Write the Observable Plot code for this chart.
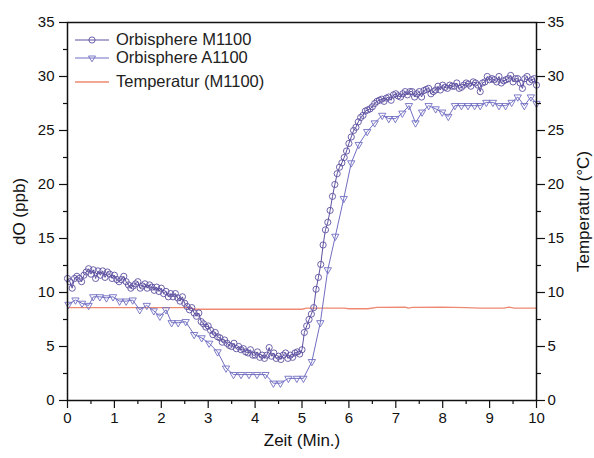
<!DOCTYPE html>
<html>
<head>
<meta charset="utf-8">
<script src="https://cdn.jsdelivr.net/npm/d3@7"></script>
<script src="https://cdn.jsdelivr.net/npm/@observablehq/plot@0.6"></script>
<style>
html, body { margin: 0; padding: 0; background: #fff; }
#wrap { position: relative; width: 594px; height: 458px; font-family: "Liberation Sans", Arial, sans-serif; }
#legend { position: absolute; left: 0; top: 0; width: 594px; height: 0; }
.leg-row { position: absolute; left: 75px; display: flex; align-items: center; font-size: 16.5px; color: #222; white-space: nowrap; }
.leg-row svg { margin-right: 7px; }
g[aria-label="y-axis label"] text, g[aria-label="x-axis label"] text { font-size: 17px; }
</style>
</head>
<body>
<div id="wrap"><div id="legend"></div></div>
<script>
// ---- data ----
const seriesNames = ["Orbisphere M1100", "Orbisphere A1100", "Temperatur (M1100)"];
const axisLabels = { x: "Zeit (Min.)", yLeft: "dO (ppb)", yRight: "Temperatur (°C)" };
const xTicks = [0, 1, 2, 3, 4, 5, 6, 7, 8, 9, 10];
const xMinorTicks = [0.5, 1.5, 2.5, 3.5, 4.5, 5.5, 6.5, 7.5, 8.5, 9.5];
const yTicks = [0, 5, 10, 15, 20, 25, 30, 35];
const yMinorTicks = [2.5, 7.5, 12.5, 17.5, 22.5, 27.5, 32.5];

// Orbisphere M1100: one sample every 0.05 min (3 s), starting at t = 0
const m1100Step = 0.05;
const m1100Values = [
  11.3, 11.0, 10.4, 11.3, 11.5, 11.3, 11.0, 11.6, 11.9, 12.2,
  11.7, 12.1, 11.3, 12.0, 11.6, 12.0, 11.4, 11.9, 11.7, 11.3,
  11.6, 11.2, 11.0, 11.2, 11.5, 11.0, 10.7, 10.4, 10.6, 10.8,
  11.0, 10.4, 10.6, 10.8, 10.4, 10.7, 10.5, 10.2, 10.5, 10.1,
  10.4, 9.9, 10.1, 9.6, 9.9, 9.6, 9.9, 9.5, 9.2, 9.6,
  9.0, 8.7, 8.4, 8.6, 8.1, 7.8, 8.1, 7.3, 7.1, 6.8,
  6.9, 6.5, 6.1, 6.3, 5.9, 5.8, 5.4, 5.6, 5.3, 5.1,
  5.0, 5.3, 4.8, 5.0, 4.7, 4.8, 4.5, 4.4, 4.7, 4.2,
  4.2, 4.5, 4.0, 4.2, 3.9, 4.2, 4.9, 4.1, 4.4, 3.9,
  4.1, 3.8, 4.2, 4.4, 3.9, 4.2, 4.0, 4.4, 4.5, 4.3,
  4.7, 6.3, 6.9, 7.5, 8.0, 8.6, 10.3, 11.4, 12.6, 14.4,
  15.8, 16.5, 17.6, 18.9, 20.0, 21.0, 21.6, 22.0, 22.5, 23.1,
  23.8, 24.4, 25.0, 25.3, 25.8, 26.2, 26.4, 26.8, 26.9, 27.0,
  27.2, 27.5, 27.7, 27.8, 27.9, 27.7, 28.0, 28.1, 27.8, 28.3,
  28.4, 28.2, 28.1, 28.4, 28.6, 28.3, 28.6, 28.6, 28.1, 28.4,
  28.6, 28.1, 28.7, 28.8, 28.9, 28.4, 28.6, 28.75, 29.1, 28.75,
  29.2, 29.0, 28.9, 29.2, 29.1, 29.1, 29.4, 28.9, 29.0, 29.2,
  29.4, 29.3, 29.1, 29.5, 29.4, 29.2, 28.6, 29.4, 29.5, 30.0,
  29.7, 29.8, 29.7, 29.5, 30.0, 29.4, 29.6, 29.7, 29.8, 30.1,
  29.5, 29.8, 29.8, 29.4, 28.9, 29.8, 30.0, 29.5, 29.7, 29.8,
  29.2
];

// Orbisphere A1100
const a1100Times = [
  0.02, 0.17, 0.31, 0.45, 0.55, 0.69, 0.83, 0.97, 1.11, 1.25,
  1.39, 1.54, 1.69, 1.84, 1.97, 2.10, 2.22, 2.36, 2.52, 2.70,
  2.86, 3.02, 3.20, 3.38, 3.54, 3.70, 3.87, 4.04, 4.22, 4.39,
  4.54, 4.71, 4.89, 5.03, 5.21, 5.39, 5.55, 5.71, 5.89, 6.05,
  6.21, 6.39, 6.55, 6.71, 6.85, 6.99, 7.14, 7.28, 7.42, 7.56,
  7.70, 7.85, 7.99, 8.12, 8.26, 8.40, 8.54, 8.68, 8.80, 8.93,
  9.07, 9.20, 9.34, 9.47, 9.60, 9.74, 9.88, 10.0
];
const a1100Values = [
  8.9, 9.3, 9.0, 8.8, 9.6, 9.6, 9.5, 9.6, 9.2, 9.2,
  9.3, 8.4, 8.8, 8.3, 7.8, 8.4, 7.2, 7.2, 7.3, 6.1,
  5.8, 5.3, 4.5, 3.0, 2.4, 2.4, 2.4, 2.4, 2.4, 1.6,
  1.6, 2.05, 2.05, 2.05, 3.6, 7.2, 12.1, 15.2, 18.7, 22.0,
  23.7, 24.9, 25.7, 26.4, 26.1, 26.1, 26.6, 27.3, 25.7, 26.7,
  27.3, 27.0, 26.7, 26.3, 27.3, 27.3, 27.3, 27.3, 27.3, 27.6,
  27.6, 27.3, 27.3, 27.6, 28.1, 27.3, 28.1, 27.5
];

// Temperatur (M1100), °C
const tempTimes = [0, 2.6, 2.7, 5.0, 5.1, 5.9, 6.0, 6.4, 6.6, 7.2, 7.27, 7.35, 8.0, 8.5, 8.8, 9.3, 9.42, 9.52, 10.0];
const tempValues = [8.6, 8.6, 8.45, 8.45, 8.55, 8.55, 8.5, 8.5, 8.62, 8.65, 8.55, 8.62, 8.65, 8.6, 8.55, 8.55, 8.65, 8.55, 8.55];

const colorM = "#5e50a0";
const colorA = "#716ec2";
const colorT = "#ee8a72";

// ---- build tables ----
const M = m1100Values.map((v, i) => ({ t: +(i * m1100Step).toFixed(2), v }));
const A = a1100Times.map((t, i) => ({ t, v: a1100Values[i] }));
const T = tempTimes.map((t, i) => ({ t, v: tempValues[i] }));

const font = "Liberation Sans, Arial, sans-serif";
const chart = Plot.plot({
  width: 594,
  height: 458,
  marginLeft: 67,
  marginRight: 58,
  marginTop: 22,
  marginBottom: 58,
  style: { fontFamily: font, fontSize: "15px", color: "#111", background: "#fff", overflow: "visible" },
  x: { domain: [0, 10] },
  y: { domain: [0, 35] },
  marks: [
    Plot.line(T, { x: "t", y: "v", stroke: colorT, strokeWidth: 1.4 }),
    Plot.line(A, { x: "t", y: "v", stroke: colorA, strokeWidth: 1 }),
    Plot.dot(A, { x: "t", y: "v", symbol: "triangle", rotate: 180, r: 2.7, stroke: colorA, strokeWidth: 0.9, fill: "none" }),
    Plot.line(M, { x: "t", y: "v", stroke: colorM, strokeWidth: 1 }),
    Plot.dot(M, { x: "t", y: "v", r: 3.1, stroke: colorM, strokeWidth: 0.9, fill: "none" }),
    Plot.axisY({ ticks: yMinorTicks, anchor: "left", tickSize: 4, tickFormat: () => "", label: null, strokeWidth: 1.2 }),
    Plot.axisY({ ticks: yTicks, anchor: "left", tickSize: 8, tickPadding: 5, fontSize: 15, label: axisLabels.yLeft, labelAnchor: "center", labelOffset: 55, labelArrow: "none", strokeWidth: 1.2 }),
    Plot.axisY({ ticks: yMinorTicks, anchor: "right", tickSize: 4, tickFormat: () => "", label: null, strokeWidth: 1.2 }),
    Plot.axisY({ ticks: yTicks, anchor: "right", tickSize: 8, tickPadding: 3, fontSize: 15, label: axisLabels.yRight, labelAnchor: "center", labelOffset: 52, labelArrow: "none", strokeWidth: 1.2 }),
    Plot.axisX({ ticks: xMinorTicks, anchor: "bottom", tickSize: 4, tickFormat: () => "", label: null, strokeWidth: 1.2 }),
    Plot.axisX({ ticks: xTicks, anchor: "bottom", tickSize: 8, tickPadding: 4, fontSize: 15, label: axisLabels.x, labelAnchor: "center", labelOffset: 45, labelArrow: "none", strokeWidth: 1.2 }),
    Plot.frame({ stroke: "#111", strokeWidth: 1.5 })
  ]
});
document.getElementById("wrap").prepend(chart);

// ---- legend (inside plot, top-left) ----
const legend = document.getElementById("legend");
const legendItems = [
  { name: seriesNames[0], color: colorM, marker: "circle", top: 30 },
  { name: seriesNames[1], color: colorA, marker: "triangle", top: 48 },
  { name: seriesNames[2], color: colorT, marker: null, top: 72 }
];
for (const it of legendItems) {
  const row = document.createElement("div");
  row.className = "leg-row";
  row.style.top = it.top + "px";
  let mk = "";
  if (it.marker === "circle") mk = `<circle cx="17" cy="9" r="3.1" fill="none" stroke="${it.color}" stroke-width="0.9"/>`;
  if (it.marker === "triangle") mk = `<path d="M13.5,7 L20.5,7 L17,12.8 Z" fill="none" stroke="${it.color}" stroke-width="0.9"/>`;
  row.innerHTML = `<svg width="34" height="18"><line x1="0" y1="9" x2="34" y2="9" stroke="${it.color}" stroke-width="${it.marker ? 1 : 1.4}"/>${mk}</svg><span>${it.name}</span>`;
  legend.appendChild(row);
}
</script>
</body>
</html>
